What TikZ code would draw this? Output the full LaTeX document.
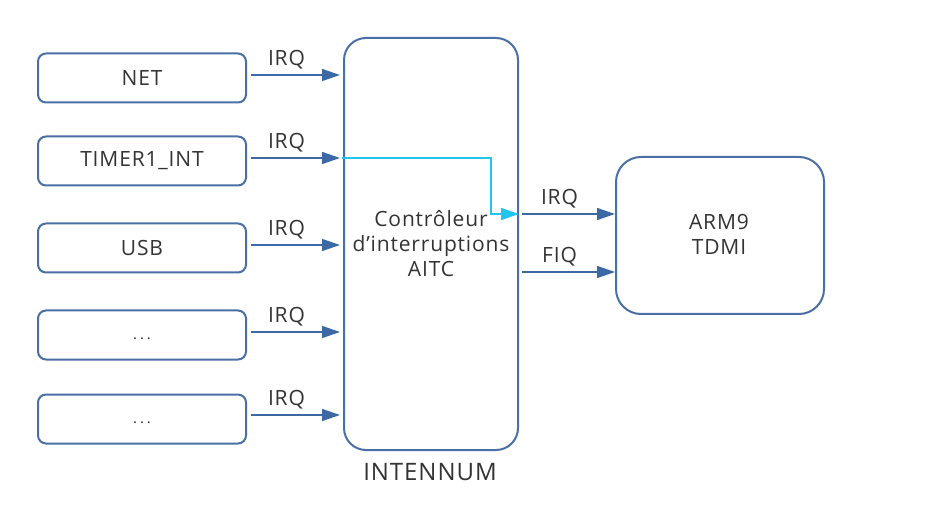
\documentclass[tikz,border=0pt]{standalone}
\usepackage{fontspec}
\setmainfont{Open Sans}[LetterSpace=4]
\usetikzlibrary{arrows.meta}
\definecolor{boxblue}{HTML}{4A6FA5}
\definecolor{arrblue}{HTML}{3D68A6}
\definecolor{cyanl}{HTML}{22C4F0}
\definecolor{txt}{HTML}{333333}
\newcommand{\mydots}{\raisebox{-9pt}{\fontsize{15}{17}\selectfont .\hspace{3pt}.\hspace{3pt}.}}
\begin{document}
\begin{tikzpicture}[x=1pt,y=-1pt,
  src/.style={draw=boxblue,line width=2pt,rounded corners=8pt,minimum width=208pt,minimum height=49pt,inner sep=0pt,font=\fontsize{21}{25}\selectfont,text=txt},
  lbl/.style={font=\fontsize{21}{25}\selectfont,text=txt,inner sep=0pt},
  conn/.style={draw=arrblue,line width=1.5pt,-{Triangle[length=18pt,width=12pt]}},
  cconn/.style={draw=cyanl,line width=1.5pt,-{Triangle[length=18pt,width=12pt]}}]
\useasboundingbox (0,0) rectangle (945,529);
\node[src] (net) at (142,78) {NET};
\node[src] (tim) at (142,161) {TIMER1\_INT};
\node[src] (usb) at (142,248) {USB};
\node[src] (d1) at (142,335) {\mydots};
\node[src] (d2) at (142,419) {\mydots};
\node[draw=boxblue,line width=2pt,rounded corners=22pt,minimum width=174pt,minimum height=412pt,inner sep=0pt] (aitc) at (431,244) {};
\node[lbl,align=center] (aitct) at (431,244) {Contrôleur\\[0pt]d’interruptions\\[0pt]AITC};
\node[lbl,font=\fontsize{24}{28}\selectfont] (intn) at (430,472) {INTENNUM};
\node[draw=boxblue,line width=2pt,rounded corners=25pt,minimum width=208pt,minimum height=157pt,inner sep=0pt] (arm) at (720,235.5) {};
\node[lbl,align=center] (armt) at (719,234) {ARM9\\[0pt]TDMI};
% input arrows
\coordinate (n1) at (340,75);
\coordinate (n2) at (340,158);
\coordinate (n3) at (340,245);
\coordinate (n4) at (340,332);
\coordinate (n5) at (340,415);
\draw[conn] (net.east |- n1) ++(4,0) -- (n1) node[lbl,midway,above=5pt,xshift=-9pt] {IRQ};
\draw[conn] (tim.east |- n2) ++(4,0) -- (n2) node[lbl,midway,above=5pt,xshift=-9pt] {IRQ};
\draw[conn] (usb.east |- n3) ++(4,0) -- (n3) node[lbl,midway,above=5pt,xshift=-9pt] {IRQ};
\draw[conn] (d1.east |- n4) ++(4,0) -- (n4) node[lbl,midway,above=5pt,xshift=-9pt] {IRQ};
\draw[conn] (d2.east |- n5) ++(4,0) -- (n5) node[lbl,midway,above=5pt,xshift=-9pt] {IRQ};
% output arrows
\coordinate (o1) at (522,214);
\coordinate (o2) at (522,272);
\draw[conn] (o1) -- (arm.west |- o1) node[lbl,midway,above=5pt,xshift=-9pt] {IRQ};
\draw[conn] (o2) -- (arm.west |- o2) node[lbl,midway,above=5pt,xshift=-9pt] {FIQ};
% cyan path
\coordinate (c0) at (342,158);
\coordinate (c1) at (491,158);
\coordinate (c2) at (491,214);
\draw[cconn] (c0) -- (c1) -- (c2) -- (aitc.east |- c2);
\end{tikzpicture}
\end{document}
